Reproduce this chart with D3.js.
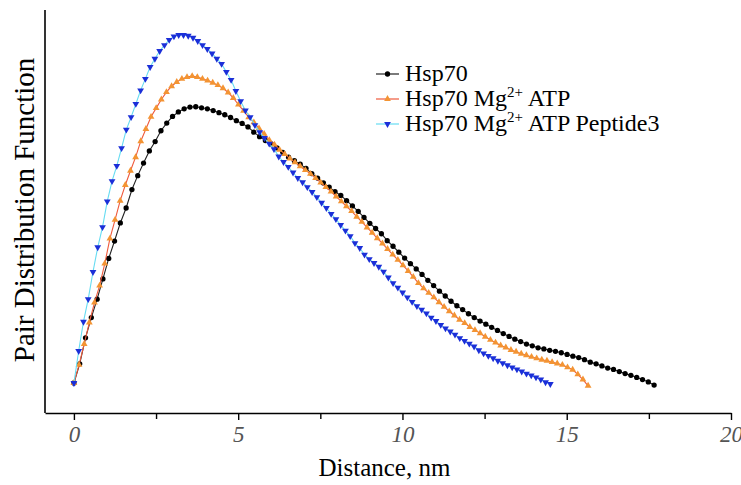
<!DOCTYPE html>
<html>
<head>
<meta charset="utf-8">
<script src="https://cdn.jsdelivr.net/npm/d3@7"></script>
<style>
  body { margin: 0; background: #fff; }
  svg { display: block; font-family: "Liberation Serif", "Times New Roman", serif; }
</style>
</head>
<body>
<main></main>
<script>
// pair distribution functions, P(r) on an arbitrary scale, equally spaced r from 0 to rMax
const hsp70Max = 17.66;
const hsp70 = [0, 5.5, 13.0, 18.8, 24.1, 29.9, 35.8, 40.8, 46.0, 50.3,
  55.6, 59.6, 63.2, 66.7, 69.4, 72.5, 74.7, 76.6, 77.9, 78.8,
  79.3, 79.4, 79.1, 78.8, 78.3, 77.7, 77.1, 76.3, 75.4, 74.6,
  73.6, 72.1, 70.8, 69.7, 68.7, 67.6, 66.3, 64.9, 63.9, 62.9,
  61.7, 60.2, 58.9, 57.5, 56.3, 55.0, 53.9, 52.4, 50.9, 49.3,
  47.6, 45.9, 44.4, 42.9, 40.9, 39.3, 37.6, 35.9, 34.3, 32.8,
  31.2, 29.5, 28.0, 26.4, 25.0, 23.5, 22.2, 21.1, 19.9, 18.8,
  17.8, 16.9, 16.0, 15.1, 14.2, 13.4, 12.6, 11.9, 11.2, 10.7,
  10.1, 9.8, 9.4, 9.1, 8.7, 8.2, 7.7, 7.3, 6.7, 6.0,
  5.5, 4.9, 4.3, 3.9, 3.3, 2.7, 2.2, 1.6, 1.0, 0.3, -0.6];

const atpMax = 15.65;
const hsp70Atp = [0, 5.2, 11.2, 17.4, 23.1, 28.0, 34.3, 41.5, 46.9, 52.4,
  56.9, 61.0, 64.9, 69.5, 73.0, 76.5, 79.0, 81.5, 83.6, 85.3,
  86.5, 87.4, 87.9, 88.2, 87.9, 87.4, 86.9, 86.3, 85.6, 84.7,
  83.5, 81.9, 80.0, 78.2, 76.4, 74.9, 73.2, 71.6, 69.8, 68.5,
  67.0, 65.8, 64.5, 63.4, 62.3, 61.2, 60.1, 58.9, 57.6, 56.3,
  55.0, 53.6, 52.2, 50.8, 49.4, 47.8, 46.3, 44.7, 43.2, 41.6,
  40.1, 38.5, 36.9, 35.4, 33.8, 32.2, 30.5, 28.7, 27.2, 25.9,
  24.6, 23.2, 21.9, 20.6, 19.4, 18.2, 17.2, 16.1, 15.2, 14.3,
  13.3, 12.4, 11.6, 10.8, 10.2, 9.5, 9.0, 8.4, 8.0, 7.5,
  7.1, 6.7, 6.4, 6.0, 5.6, 5.2, 4.5, 3.8, 2.5, 1.0, -0.8];

const peptideMax = 14.5;
const hsp70AtpPeptide = [0, 9.2, 17.6, 24.1, 31.9, 39.0, 44.8, 52.2, 58.0, 62.4,
  67.5, 72.8, 76.4, 80.2, 84.1, 87.4, 90.8, 93.2, 95.4, 97.1,
  98.6, 99.6, 100.0, 100.0, 99.8, 99.2, 98.3, 97.1, 96.0, 94.7,
  93.2, 91.7, 89.4, 87.1, 83.9, 81.0, 78.3, 76.4, 74.1, 72.1,
  70.4, 68.8, 67.2, 65.1, 63.5, 62.1, 60.5, 58.9, 57.7, 56.3,
  54.9, 53.4, 51.8, 50.3, 48.6, 47.1, 45.4, 43.8, 42.2, 40.2,
  38.8, 36.9, 35.6, 34.5, 33.4, 32.0, 30.3, 28.7, 27.4, 26.0,
  24.6, 23.3, 22.1, 21.1, 20.0, 18.8, 17.8, 16.7, 15.7, 14.8,
  13.9, 12.9, 12.1, 11.3, 10.5, 9.4, 8.5, 7.8, 7.1, 6.4,
  5.7, 5.1, 4.5, 3.9, 3.3, 2.7, 2.2, 1.6, 1.0, 0.2, -0.3];

const xTicks = [0, 5, 10, 15, 20];
const xMinorTicks = [2.5, 7.5, 12.5, 17.5];

const series = [
  { name: "Hsp70", sup: "", rest: "", rMax: hsp70Max, values: hsp70,
    line: "#222222", fill: "#000000", shape: "circle" },
  { name: "Hsp70 Mg", sup: "2+", rest: " ATP", rMax: atpMax, values: hsp70Atp,
    line: "#ef5a3c", fill: "#f39433", shape: "up" },
  { name: "Hsp70 Mg", sup: "2+", rest: " ATP Peptide3", rMax: peptideMax, values: hsp70AtpPeptide,
    line: "#66dcf2", fill: "#1b2fd8", shape: "down" }
];

const width = 741, height = 485;
const svg = d3.select("main").append("svg")
  .attr("width", width)
  .attr("height", height);

const x = d3.scaleLinear().domain([-0.88, 20]).range([45, 731]);
const y = d3.scaleLinear().domain([-8.62, 107.2]).range([413, 10]);

// axes
svg.append("line")
  .attr("x1", 45).attr("x2", 45)
  .attr("y1", y(107.2)).attr("y2", y(-8.62))
  .attr("stroke", "#000").attr("stroke-width", 1.6);

const xAxis = svg.append("g")
  .attr("transform", "translate(0," + y(-8.62) + ")")
  .call(d3.axisBottom(x).tickValues(xTicks).tickSize(7).tickSizeOuter(0).tickPadding(6));
xAxis.select(".domain").attr("stroke-width", 1.6);
xAxis.selectAll(".tick line").attr("stroke-width", 1.4);
xAxis.selectAll("text")
  .attr("font-family", "Liberation Serif, serif")
  .attr("font-style", "italic")
  .attr("font-size", 23)
  .attr("fill", "#555");

svg.append("g")
  .attr("transform", "translate(0," + y(-8.62) + ")")
  .call(d3.axisBottom(x).tickValues(xMinorTicks).tickSize(6).tickFormat(""))
  .call(g => g.select(".domain").remove())
  .selectAll(".tick line").attr("stroke-width", 1.4);

svg.append("text")
  .attr("x", x(10) - 18)
  .attr("y", 476)
  .attr("text-anchor", "middle")
  .attr("font-size", 25)
  .text("Distance, nm");

svg.append("text")
  .attr("transform", "translate(34," + 210 + ") rotate(-90)")
  .attr("text-anchor", "middle")
  .attr("font-size", 29)
  .text("Pair Distribution Function");

// curves
const line = d3.line()
  .x(d => x(d[0]))
  .y(d => y(d[1]));

function markerPath(shape) {
  if (shape === "circle") return d3.symbol(d3.symbolCircle, 22)();
  return d3.symbol(d3.symbolTriangle, 20)();
}

series.forEach(s => {
  const pts = s.values.map((v, i) => [i * s.rMax / (s.values.length - 1), v]);
  const g = svg.append("g");
  g.append("path")
    .attr("d", line(pts))
    .attr("fill", "none")
    .attr("stroke", s.line)
    .attr("stroke-width", 1.1);
  g.selectAll("path.pt")
    .data(pts)
    .enter()
    .append("path")
    .attr("class", "pt")
    .attr("d", markerPath(s.shape))
    .attr("transform", d => "translate(" + x(d[0]) + "," + y(d[1]) + ")" + (s.shape === "down" ? " rotate(180)" : ""))
    .attr("fill", s.fill);
});

// legend
const legend = svg.append("g").attr("transform", "translate(376,74)");
series.forEach((s, i) => {
  const row = legend.append("g").attr("transform", "translate(0," + i * 25 + ")");
  row.append("line")
    .attr("x1", 0).attr("x2", 23)
    .attr("stroke", s.line).attr("stroke-width", 1.2);
  row.append("path")
    .attr("d", markerPath(s.shape))
    .attr("transform", "translate(11.5,0)" + (s.shape === "down" ? " rotate(180)" : ""))
    .attr("fill", s.fill);
  const t = row.append("text")
    .attr("x", 29)
    .attr("y", 7)
    .attr("font-size", 24)
    .text(s.name);
  if (s.sup) {
    t.append("tspan").attr("dy", -9).attr("font-size", 15).text(s.sup);
    t.append("tspan").attr("dy", 9).text(s.rest);
  }
});
</script>
</body>
</html>
